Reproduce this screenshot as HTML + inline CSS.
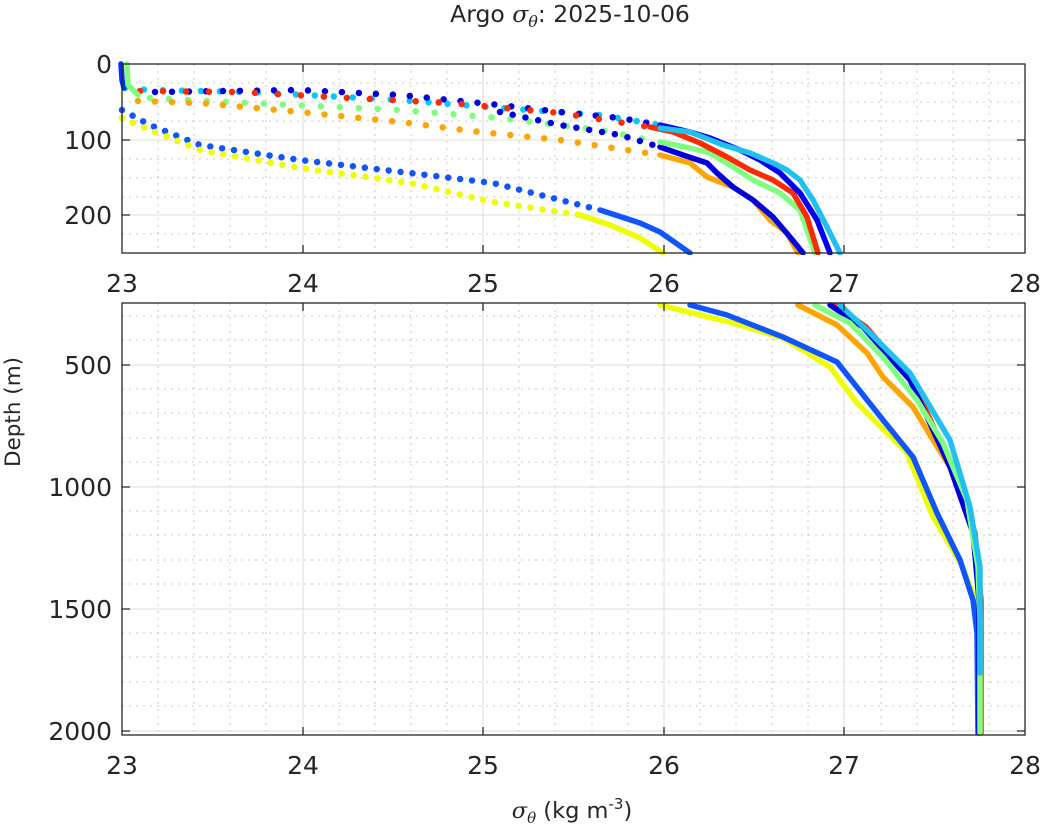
<!DOCTYPE html>
<html><head><meta charset="utf-8"><style>
body{margin:0;background:#fff}
svg{display:block}
text{font-family:"DejaVu Sans","Liberation Sans",sans-serif;fill:#262626}
.t{font-size:25px}
.maj{stroke:#dcdcdc;stroke-width:1}
.min{stroke:#c8c8c8;stroke-width:1;stroke-dasharray:2 5}
.c{fill:none;stroke-width:5.5;stroke-linecap:round;stroke-linejoin:round}
.d{fill:none;stroke-width:6.5;stroke-linecap:round;stroke-dasharray:0 15}
</style></head><body>
<svg width="1044" height="835" viewBox="0 0 1044 835">
<rect width="1044" height="835" fill="#fff"/>
<g>
<g class="min">
<path d="M158 64V253M194 64V253M230 64V253M266 64V253M339 64V253M375 64V253M411 64V253M447 64V253M519 64V253M555 64V253M592 64V253M628 64V253M700 64V253M736 64V253M772 64V253M808 64V253M881 64V253M917 64V253M953 64V253M989 64V253"/>
<path d="M122 83H1025M122 102H1025M122 121H1025M122 159H1025M122 178H1025M122 197H1025M122 234H1025"/>
</g>
<g class="maj"><path d="M303 64V253M483 64V253M664 64V253M844 64V253M122 140H1025M122 215H1025"/></g>
</g>
<g>
<g class="min">
<path d="M158 303V735M194 303V735M230 303V735M266 303V735M339 303V735M375 303V735M411 303V735M447 303V735M519 303V735M555 303V735M592 303V735M628 303V735M700 303V735M736 303V735M772 303V735M808 303V735M881 303V735M917 303V735M953 303V735M989 303V735"/>
<path d="M122 316H1025M122 340H1025M122 389H1025M122 413H1025M122 438H1025M122 462H1025M122 511H1025M122 535H1025M122 560H1025M122 584H1025M122 633H1025M122 657H1025M122 682H1025M122 706H1025"/>
</g>
<g class="maj"><path d="M303 303V735M483 303V735M664 303V735M844 303V735M122 365H1025M122 487H1025M122 609H1025M122 731H1025"/></g>
</g>

<clipPath id="ct"><rect x="118" y="60" width="910" height="195"/></clipPath>
<g clip-path="url(#ct)">
<polyline class="d" stroke="#00c8ff" style="stroke-dasharray:0 19" points="125,88 150,90 250,92 400,100 500,108 600,115 660,125"/>
<polyline class="d" stroke="#0000dd" style="stroke-dasharray:0 17" points="155,92 300,90 400,95 500,105 560,112 620,118 660,125"/>
<polyline class="d" stroke="#ff2a00" style="stroke-dasharray:0 23" points="140,91 240,92 350,98 450,103 560,113 650,127"/>
<polyline class="d" stroke="#80ff80" style="stroke-dasharray:0 19" points="150,98 250,103 400,110 500,118 600,130 660,142"/>
<polyline class="d" stroke="#0000dd" style="stroke-dasharray:0 13" points="500,112 560,125 620,135 660,147"/>
<polyline class="d" stroke="#ffa500" style="stroke-dasharray:0 17" points="138,101 200,103 300,112 400,122 480,132 560,140 660,155"/>
<polyline class="d" stroke="#1155ff" style="stroke-dasharray:0 12" points="122,110 150,125 200,145 300,160 410,173 493,183 600,210"/>
<polyline class="d" stroke="#eeff00" style="stroke-dasharray:0 12" points="122,118 150,130 200,150 300,168 410,183 493,202 580,215"/>
<polyline class="c" stroke="#0033ff" points="121,64 122,80 124,88"/>
<polyline class="c" stroke="#80ff80" points="127,64 128,85 138,95"/>
<polyline class="c" stroke="#eeff00" points="580,215 610,225 640,238 663,253"/>
<polyline class="c" stroke="#1155ff" points="600,210 640,223 660,232 690,253"/>
<polyline class="c" stroke="#ffa500" points="660,155 690,163 707,177 733,187 753,200 770,220 787,233 798,253"/>
<polyline class="c" stroke="#0000dd" points="660,147 683,155 707,163 717,173 733,187 753,200 773,217 790,237 803,253"/>
<polyline class="c" stroke="#80ff80" points="660,142 690,148 710,153 733,167 753,180 780,193 800,210 815,253"/>
<polyline class="c" stroke="#ff2a00" points="650,127 673,132 700,143 727,157 750,170 773,180 793,193 807,217 818,253"/>
<polyline class="c" stroke="#0000ee" points="660,125 690,132 710,138 740,150 760,160 780,173 800,193 817,220 830,253"/>
<polyline class="c" stroke="#22c0f0" points="660,128 690,132 723,145 750,153 773,163 787,170 800,180 813,200 827,227 840,253"/>
</g>

<g>
<polyline class="c" stroke="#eeff00" points="660,305 733,323 783,338 830,367 857,403 907,453 933,517 963,567 975,600 978,650 978,733"/>
<polyline class="c" stroke="#1155ff" points="690,305 727,315 783,337 837,362 883,420 913,457 937,513 960,560 973,600 977,633 978,733"/>
<polyline class="c" stroke="#ffa500" points="798,305 837,325 867,353 883,377 913,407 933,440 950,467 963,500 975,540 980,600 980,733"/>
<polyline class="c" stroke="#ff2a00" points="835,305 866,327 912,380 952,467 975,533 981,600 981,733"/>
<polyline class="c" stroke="#0000dd" points="830,305 863,327 910,380 950,467 973,533 979,600 979,733"/>
<polyline class="c" stroke="#80ff80" points="815,305 850,323 883,357 917,400 943,443 967,500 978,567 980,620 980,733"/>
<polyline class="c" stroke="#22c0f0" points="840,305 870,333 910,373 950,440 970,507 980,567 980,673"/>
</g>

<rect x="122" y="64" width="903" height="189" fill="none" stroke="#262626" stroke-width="1.3"/>
<rect x="122" y="303" width="903" height="432" fill="none" stroke="#262626" stroke-width="1.3"/>
<g stroke="#262626" stroke-width="1.3">
<path d="M303 253v-8M483 253v-8M664 253v-8M844 253v-8M303 64v8M483 64v8M664 64v8M844 64v8"/>
<path d="M122 140h8M122 215h8M1025 140h-8M1025 215h-8"/>
<path d="M303 735v-8M483 735v-8M664 735v-8M844 735v-8M303 303v8M483 303v8M664 303v8M844 303v8"/>
<path d="M122 365h8M122 487h8M122 609h8M122 731h8M1025 365h-8M1025 487h-8M1025 609h-8M1025 731h-8"/>
</g>

<g class="t" text-anchor="end">
<text x="112" y="73">0</text>
<text x="112" y="149">100</text>
<text x="112" y="224">200</text>
<text x="112" y="374">500</text>
<text x="112" y="496">1000</text>
<text x="112" y="618">1500</text>
<text x="112" y="740">2000</text>
</g>
<g class="t" text-anchor="middle">
<text x="122" y="292">23</text><text x="303" y="292">24</text><text x="483" y="292">25</text><text x="664" y="292">26</text><text x="844" y="292">27</text><text x="1025" y="292">28</text>
<text x="122" y="774">23</text><text x="303" y="774">24</text><text x="483" y="774">25</text><text x="664" y="774">26</text><text x="844" y="774">27</text><text x="1025" y="774">28</text>
</g>
<text x="20" y="412" font-size="21.5" text-anchor="middle" transform="rotate(-90 20 412)">Depth (m)</text>
<text x="570" y="22" font-size="23.5" text-anchor="middle">Argo <tspan font-family="DejaVu Serif" font-style="italic">σ</tspan><tspan font-family="DejaVu Serif" font-style="italic" font-size="16" dy="5">θ</tspan><tspan dy="-5">: 2025-10-06</tspan></text>
<text x="572" y="818" font-size="22.5" text-anchor="middle"><tspan font-family="DejaVu Serif" font-style="italic">σ</tspan><tspan font-family="DejaVu Serif" font-style="italic" font-size="15" dy="5">θ</tspan><tspan dy="-5"> (kg m</tspan><tspan font-size="15" dy="-9">-3</tspan><tspan dy="9">)</tspan></text>
</svg>
</body></html>
